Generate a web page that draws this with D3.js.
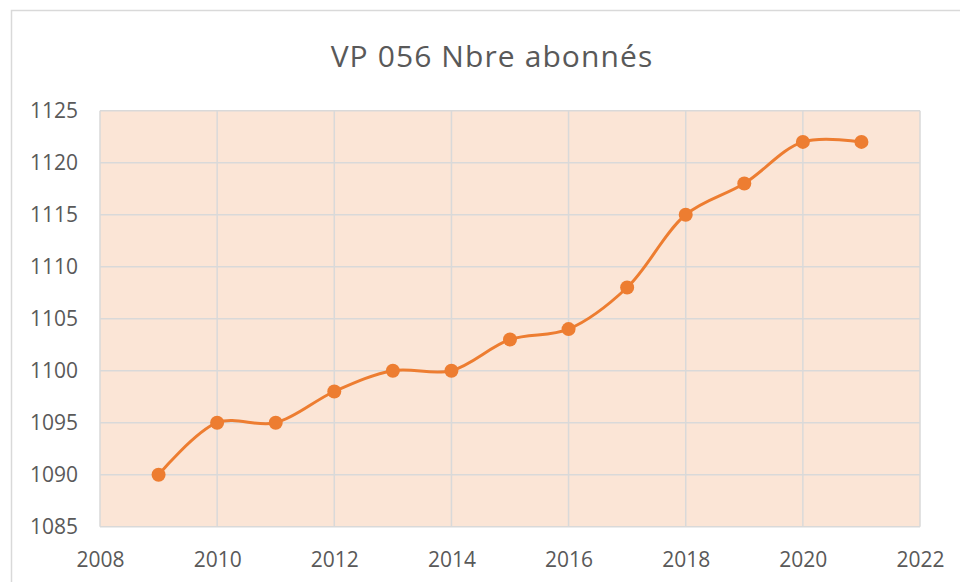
<!DOCTYPE html>
<html><head><meta charset="utf-8">
<script src="https://cdn.jsdelivr.net/npm/d3@7"></script>
<style>html,body{margin:0;padding:0;background:#fff;}svg{display:block;}</style>
</head><body>
<svg id="chart" width="960" height="582"></svg>
<script>
const title = "VP 056 Nbre abonnés";
const years = [2009,2010,2011,2012,2013,2014,2015,2016,2017,2018,2019,2020,2021];
const subscribers = [1090,1095,1095,1098,1100,1100,1103,1104,1108,1115,1118,1122,1122];
const xTicks = [2008,2010,2012,2014,2016,2018,2020,2022];
const yTicks = [1085,1090,1095,1100,1105,1110,1115,1120,1125];

const svg = d3.select("#chart");
const font = "'Open Sans', 'Noto Sans', sans-serif";
const L = 100, R = 920, T = 110.7, B = 526.7;
const x = d3.scaleLinear().domain([2008,2022]).range([L,R]);
const y = d3.scaleLinear().domain([1085,1125]).range([B,T]);

svg.append("rect").attr("x",11.5).attr("y",10.5).attr("width",980).attr("height",600)
  .attr("fill","#fff").attr("stroke","#d9d9d9").attr("stroke-width",1.5);

svg.append("text").attr("x",492).attr("y",66.7).attr("text-anchor","middle")
  .attr("font-family",font).attr("font-size",30).attr("letter-spacing",1.1)
  .attr("fill","#595959").text(title);

svg.append("rect").attr("x",L).attr("y",T).attr("width",R-L).attr("height",B-T)
  .attr("fill","#fbe5d6");

const g = svg.append("g");
g.selectAll(".hg").data(yTicks).join("line")
  .attr("x1",L).attr("x2",R).attr("y1",d=>y(d)).attr("y2",d=>y(d))
  .attr("stroke","#d9d9d9").attr("stroke-width",1.5);
g.selectAll(".vg").data(xTicks).join("line")
  .attr("y1",T).attr("y2",B).attr("x1",d=>x(d)).attr("x2",d=>x(d))
  .attr("stroke","#d9d9d9").attr("stroke-width",1.5);

// axes
const yAxis = svg.append("g").attr("transform",`translate(${L},0)`)
  .call(d3.axisLeft(y).tickValues(yTicks).tickSize(0).tickPadding(22).tickFormat(d3.format("d")));
const xAxis = svg.append("g").attr("transform",`translate(0,${B})`)
  .call(d3.axisBottom(x).tickValues(xTicks).tickSize(0).tickPadding(25).tickFormat(d3.format("d")));
[yAxis,xAxis].forEach(a=>{
  a.select(".domain").remove();
  a.selectAll("text").attr("font-family",font).attr("font-size",21).attr("fill","#595959");
});

const data = years.map((yr,i)=>({yr, v: subscribers[i]}));
const line = d3.line().x(d=>x(d.yr)).y(d=>y(d.v)).curve(d3.curveCatmullRom.alpha(0.5));
svg.append("path").datum(data).attr("d",line).attr("fill","none")
  .attr("stroke","#ed7d31").attr("stroke-width",3).attr("stroke-linejoin","round");
svg.selectAll(".pt").data(data).join("circle")
  .attr("cx",d=>x(d.yr)).attr("cy",d=>y(d.v)).attr("r",7).attr("fill","#ed7d31");
</script>
</body></html>
